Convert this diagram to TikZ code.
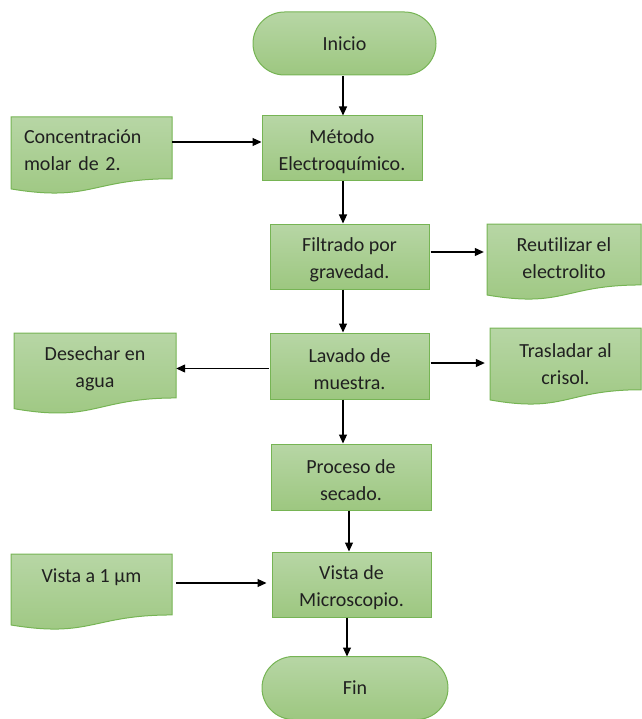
\documentclass[tikz,border=0pt]{standalone}
\usepackage{fontspec}
\setmainfont{Carlito}[Ligatures=NoCommon]
\usetikzlibrary{arrows.meta}
\definecolor{gtop}{RGB}{183,214,165}
\definecolor{gbot}{RGB}{157,199,128}
\definecolor{gline}{RGB}{118,180,84}
\definecolor{txt}{RGB}{32,32,32}
\tikzset{
  shapefill/.style={draw=gline, line width=1pt, top color=gtop, bottom color=gbot},
  box/.style={shapefill, text=txt, font=\fontsize{20}{27}\selectfont, align=center, inner sep=0pt},
  lbl/.style={text=txt, font=\fontsize{20}{27}\selectfont, align=center, inner sep=0pt},
  boxtext/.style={label={[lbl,yshift=-3.5pt]center:{#1}}},
  arr/.style={draw=black, line width=1.2pt, -{Triangle[length=9pt,width=8pt]}}
}
\newcommand\mydocshape[4]{% L T R H
  \pgfmathsetmacro\dRb{#2+0.802*#4}%
  \pgfmathsetmacro\dLb{#2+0.934*#4}%
  \pgfmathsetmacro\dCy{#2+1.108*#4}%
  \pgfmathsetmacro\dMx{(#1+#3)/2}%
  \path[shapefill] (#1,#2) -- (#3,#2) -- (#3,\dRb) .. controls (\dMx,\dRb) and (\dMx,\dCy) .. (#1,\dLb) -- cycle;
}
\begin{document}
\begin{tikzpicture}[x=1pt,y=-1pt]
\useasboundingbox (0,0) rectangle (641,719);

% terminals
\node[box, rounded corners=31.5pt, minimum width=183pt, minimum height=63pt] (ini) at (344.5,43.5) {Inicio};
\node[box, rounded corners=31.5pt, minimum width=186pt, minimum height=63pt] (fin) at (355,688) {Fin};

% process boxes
\node[box, minimum width=160pt, minimum height=65pt, boxtext={Método\\Electroquímico.}] (met) at (342,148.5) {};
\node[box, minimum width=159pt, minimum height=65pt, boxtext={Filtrado por\\gravedad.}] (filt) at (349.5,256.5) {};
\node[box, minimum width=159pt, minimum height=66pt, boxtext={Lavado de\\muestra.}] (lav) at (349.5,366) {};
\node[box, minimum width=160pt, minimum height=66pt, boxtext={Proceso de\\secado.}] (proc) at (351,477) {};
\node[box, minimum width=159pt, minimum height=65pt, boxtext={Vista de\\Microscopio.}] (vis) at (351.5,584.5) {};

% document shapes
\mydocshape{11}{117}{172}{77}
\node[lbl, align=left, text width=135pt, inner xsep=13pt] (conc) at (91.5,150) {Concentración\\molar de 2.};
\mydocshape{487}{224}{641}{76}
\node[lbl, minimum width=154pt] (reu) at (564,258) {Reutilizar el\\electrolito};
\mydocshape{14}{333}{176}{81}
\node[lbl, minimum width=162pt] (des) at (95,369) {Desechar en\\agua};
\mydocshape{490}{328}{641}{77}
\node[lbl, minimum width=151pt] (tra) at (565.5,364) {Trasladar al\\crisol.};
\mydocshape{11}{554}{172}{76}
\node[lbl, minimum width=161pt] (vum) at (91.5,577) {Vista a 1 µm};

% connectors
\draw[arr] ([xshift=-1.5pt,yshift=-0.5pt]ini.south) -- ([xshift=1pt]met.north);
\draw[arr] ([yshift=8pt]conc.east) -- ([yshift=6.5pt]met.west);
\draw[arr] ([xshift=1pt]met.south) -- ([xshift=-6.5pt]filt.north);
\draw[arr] ([xshift=1pt,yshift=4.5pt]filt.east) -- ([xshift=-3pt,yshift=6pt]reu.west);
\draw[arr] ([xshift=-6.5pt]filt.south) -- ([xshift=-6.5pt]lav.north);
\draw[arr] ([xshift=-1pt,yshift=-2.5pt]lav.west) -- ([yshift=0.5pt]des.east);
\draw[arr] ([xshift=1pt,yshift=3pt]lav.east) -- ([xshift=-5pt,yshift=1pt]tra.west);
\draw[arr] ([xshift=-6.5pt]lav.south) -- ([xshift=-8pt]proc.north);
\draw[arr] ([xshift=-2pt]proc.south) -- ([xshift=-2.5pt]vis.north);
\draw[arr] ([xshift=4pt,yshift=-6pt]vum.east) -- ([xshift=-5pt,yshift=1.5pt]vis.west);
\draw[arr] ([xshift=-4.5pt]vis.south) -- ([xshift=-8pt,yshift=-0.5pt]fin.north);
\end{tikzpicture}
\end{document}
